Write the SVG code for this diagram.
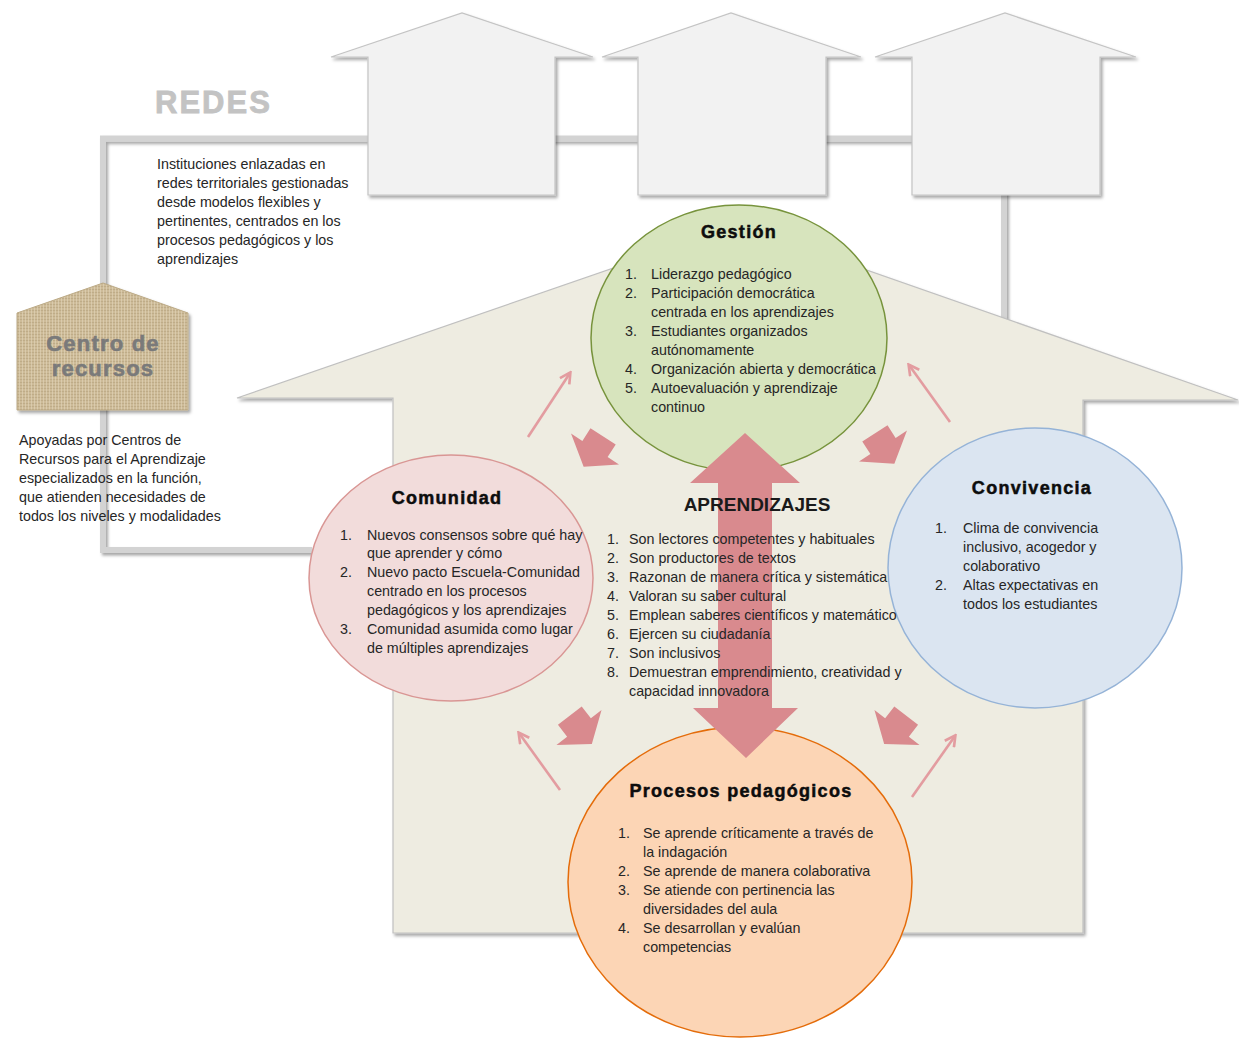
<svg xmlns="http://www.w3.org/2000/svg" width="1239" height="1040" viewBox="0 0 1239 1040">
<defs>
<style>
.t{font-family:"Liberation Sans",Arial,sans-serif;font-size:14.3px;fill:#262626}
.h{font-family:"Liberation Sans",Arial,sans-serif;font-weight:bold;font-size:18px;letter-spacing:1.3px;fill:#0d0d0d;stroke:#0d0d0d;stroke-width:0.5;text-anchor:middle}
.house{fill:#f2f2f2;stroke:#c4c4c4;stroke-width:1.2}
.net{fill:none;stroke:#d3d3d3;stroke-width:6}
.thin{fill:none;stroke:#e39ca0;stroke-width:2.6;marker-end:url(#vhead)}
.chunky{fill:#d98a8e}
</style>
<filter id="sh" x="-10%" y="-10%" width="125%" height="125%">
<feDropShadow dx="2" dy="2.5" stdDeviation="1.5" flood-color="#000" flood-opacity="0.35"/>
</filter>
<pattern id="burlap" width="6" height="6" patternUnits="userSpaceOnUse">
<rect width="6" height="6" fill="#cdbb98"/>
<path d="M0 1.5H6M0 4.5H6" stroke="#b5a07a" stroke-width="1" opacity="0.55"/>
<path d="M1.5 0V6M4.5 0V6" stroke="#e2d6ba" stroke-width="1" opacity="0.6"/>
</pattern>
<marker id="vhead" viewBox="0 0 10 10" refX="8" refY="5" markerUnits="userSpaceOnUse" markerWidth="14" markerHeight="14" orient="auto">
<path d="M1 1L8.5 5L1 9" fill="none" stroke="#e39ca0" stroke-width="1.9"/>
</marker>
<path id="chunk" d="M-15 -15L15 -15L15 0L28.5 0L0 21L-28.5 0L-15 0Z"/>
</defs>

<rect width="1239" height="1040" fill="#ffffff"/>

<g id="connectors-network" filter="url(#sh)">
<path class="net" d="M312 550H103V138.5H1000"/>
<path class="net" d="M1004 190V320"/>
</g>

<g id="house-main">
<path d="M237 398L738 225L1238 400L1083 400L1083 933L393 933L393 398Z" fill="#eeece1" stroke="#c0c0c0" stroke-width="1.2" filter="url(#sh)"/>
</g>

<g id="house-1"><path class="house" filter="url(#sh)" d="M331 57L462 13L593 57L555 57L555 195L368 195L368 57Z"/></g>
<g id="house-2"><path class="house" filter="url(#sh)" d="M602 57L731 13L861 57L826 57L826 195L638 195L638 57Z"/></g>
<g id="house-3"><path class="house" filter="url(#sh)" d="M875 57L1005 13L1136 57L1100 57L1100 195L912 195L912 57Z"/></g>

<g id="redes">
<text x="155" y="113" font-family="Liberation Sans,Arial,sans-serif" font-weight="bold" font-size="31" letter-spacing="2" fill="#c3c3c3" stroke="#c3c3c3" stroke-width="0.8">REDES</text>
<text class="t">
<tspan x="157" y="169">Instituciones enlazadas en</tspan>
<tspan x="157" y="188">redes territoriales gestionadas</tspan>
<tspan x="157" y="207">desde modelos flexibles y</tspan>
<tspan x="157" y="226">pertinentes, centrados en los</tspan>
<tspan x="157" y="245">procesos pedagógicos y los</tspan>
<tspan x="157" y="264">aprendizajes</tspan>
</text>
</g>

<g id="centro-recursos">
<path d="M17 313L103 283L188 313L188 410L17 410Z" fill="url(#burlap)" stroke="#bcaa86" stroke-width="1" filter="url(#sh)"/>
<text x="103" y="351" text-anchor="middle" font-family="Liberation Sans,Arial,sans-serif" font-weight="bold" font-size="22" letter-spacing="1.2" fill="#7a7a7a" stroke="#7a7a7a" stroke-width="0.6">Centro de</text>
<text x="103" y="376" text-anchor="middle" font-family="Liberation Sans,Arial,sans-serif" font-weight="bold" font-size="22" letter-spacing="1.2" fill="#7a7a7a" stroke="#7a7a7a" stroke-width="0.6">recursos</text>
<text class="t">
<tspan x="19" y="445">Apoyadas por Centros de</tspan>
<tspan x="19" y="464">Recursos para el Aprendizaje</tspan>
<tspan x="19" y="483">especializados en la función,</tspan>
<tspan x="19" y="502">que atienden necesidades de</tspan>
<tspan x="19" y="521">todos los niveles y modalidades</tspan>
</text>
</g>

<g id="gestion">
<ellipse cx="739" cy="338" rx="148" ry="133" fill="#d7e4bd" stroke="#77933c" stroke-width="1.5"/>
<text class="h" x="739" y="238">Gestión</text>
<text class="t">
<tspan x="625" y="279">1.</tspan><tspan x="651" y="279">Liderazgo pedagógico</tspan>
<tspan x="625" y="298">2.</tspan><tspan x="651" y="298">Participación democrática</tspan>
<tspan x="651" y="317">centrada en los aprendizajes</tspan>
<tspan x="625" y="336">3.</tspan><tspan x="651" y="336">Estudiantes organizados</tspan>
<tspan x="651" y="355">autónomamente</tspan>
<tspan x="625" y="374">4.</tspan><tspan x="651" y="374">Organización abierta y democrática</tspan>
<tspan x="625" y="393">5.</tspan><tspan x="651" y="393">Autoevaluación y aprendizaje</tspan>
<tspan x="651" y="412">continuo</tspan>
</text>
</g>

<g id="comunidad">
<ellipse cx="451" cy="578" rx="142" ry="123" fill="#f2dcdb" stroke="#d99694" stroke-width="1.5"/>
<text class="h" x="447" y="504">Comunidad</text>
<text class="t">
<tspan x="340" y="540">1.</tspan><tspan x="367" y="540">Nuevos consensos sobre qué hay</tspan>
<tspan x="367" y="558">que aprender y cómo</tspan>
<tspan x="340" y="577">2.</tspan><tspan x="367" y="577">Nuevo pacto Escuela-Comunidad</tspan>
<tspan x="367" y="596">centrado en los procesos</tspan>
<tspan x="367" y="615">pedagógicos y los aprendizajes</tspan>
<tspan x="340" y="634">3.</tspan><tspan x="367" y="634">Comunidad asumida como lugar</tspan>
<tspan x="367" y="653">de múltiples aprendizajes</tspan>
</text>
</g>

<g id="convivencia">
<ellipse cx="1035" cy="568" rx="147" ry="140" fill="#dbe5f1" stroke="#95b3d7" stroke-width="1.5"/>
<text class="h" x="1032" y="494">Convivencia</text>
<text class="t">
<tspan x="935" y="533">1.</tspan><tspan x="963" y="533">Clima de convivencia</tspan>
<tspan x="963" y="552">inclusivo, acogedor y</tspan>
<tspan x="963" y="571">colaborativo</tspan>
<tspan x="935" y="590">2.</tspan><tspan x="963" y="590">Altas expectativas en</tspan>
<tspan x="963" y="609">todos los estudiantes</tspan>
</text>
</g>

<g id="procesos">
<ellipse cx="740" cy="882" rx="172" ry="155" fill="#fcd5b5" stroke="#e46c0a" stroke-width="1.5"/>
<text class="h" x="741" y="797">Procesos pedagógicos</text>
<text class="t">
<tspan x="618" y="838">1.</tspan><tspan x="643" y="838">Se aprende críticamente a través de</tspan>
<tspan x="643" y="857">la indagación</tspan>
<tspan x="618" y="876">2.</tspan><tspan x="643" y="876">Se aprende de manera colaborativa</tspan>
<tspan x="618" y="895">3.</tspan><tspan x="643" y="895">Se atiende con pertinencia las</tspan>
<tspan x="643" y="914">diversidades del aula</tspan>
<tspan x="618" y="933">4.</tspan><tspan x="643" y="933">Se desarrollan y evalúan</tspan>
<tspan x="643" y="952">competencias</tspan>
</text>
</g>

<g id="connectors-arrows">
<path class="chunky" d="M745 433L800 483L772 483L772 708L798 708L746 758L693 708L718 708L718 483L690 483Z"/>
<use href="#chunk" class="chunky" transform="translate(595 449) rotate(32.7)"/>
<use href="#chunk" class="chunky" transform="translate(883 446) rotate(-32.7)"/>
<use href="#chunk" class="chunky" transform="translate(579 727.5) rotate(-37.7)"/>
<use href="#chunk" class="chunky" transform="translate(897 727.5) rotate(37.7)"/>
<path class="thin" d="M528 437L570 373"/>
<path class="thin" d="M950 422L909 365"/>
<path class="thin" d="M560 790L519 733"/>
<path class="thin" d="M912 797L955 736"/>
</g>

<g id="aprendizajes">
<text x="757" y="511" text-anchor="middle" font-family="Liberation Sans,Arial,sans-serif" font-weight="bold" font-size="19" fill="#1a1a1a">APRENDIZAJES</text>
<text class="t">
<tspan x="607" y="544">1.</tspan><tspan x="629" y="544">Son lectores competentes y habituales</tspan>
<tspan x="607" y="563">2.</tspan><tspan x="629" y="563">Son productores de textos</tspan>
<tspan x="607" y="582">3.</tspan><tspan x="629" y="582">Razonan de manera crítica y sistemática</tspan>
<tspan x="607" y="601">4.</tspan><tspan x="629" y="601">Valoran su saber cultural</tspan>
<tspan x="607" y="620">5.</tspan><tspan x="629" y="620">Emplean saberes científicos y matemático</tspan>
<tspan x="607" y="639">6.</tspan><tspan x="629" y="639">Ejercen su ciudadanía</tspan>
<tspan x="607" y="658">7.</tspan><tspan x="629" y="658">Son inclusivos</tspan>
<tspan x="607" y="677">8.</tspan><tspan x="629" y="677">Demuestran emprendimiento, creatividad y</tspan>
<tspan x="629" y="696">capacidad innovadora</tspan>
</text>
</g>
</svg>
